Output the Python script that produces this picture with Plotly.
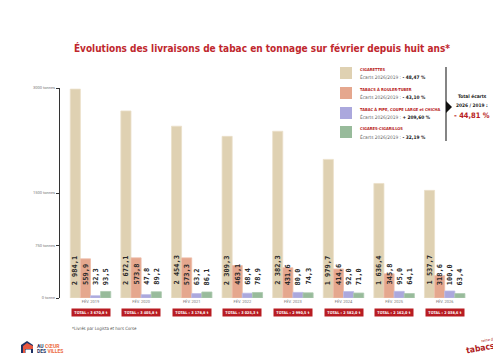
import plotly.graph_objects as go

years = ["FÉV. 2019", "FÉV. 2020", "FÉV. 2021", "FÉV. 2022", "FÉV. 2023", "FÉV. 2024", "FÉV. 2025", "FÉV. 2026"]
cigarettes = [2984.1, 2672.1, 2454.3, 2309.3, 2382.3, 1979.7, 1636.4, 1537.7]
rouler = [559.9, 573.8, 573.3, 463.1, 431.6, 414.6, 345.8, 318.6]
pipe = [32.3, 47.8, 63.2, 68.4, 80.0, 92.0, 95.0, 100.0]
cigares = [93.5, 89.2, 86.1, 78.9, 74.3, 71.0, 64.1, 63.4]
totals = ["3 670,8 t", "3 405,8 t", "3 178,8 t", "3 025,3 t", "2 990,5 t", "2 582,0 t", "2 162,0 t", "2 038,6 t"]
series_names = ["CIGARETTES", "TABACS À ROULER-TUBER", "TABAC À PIPE, COUPE LARGE et CHICHA", "CIGARES-CIGARILLOS"]
ecarts = ["- 48,47 %", "- 43,10 %", "+ 209,60 %", "- 32,19 %"]
total_ecart = "- 44,81 %"
ytick_vals = [0, 750, 1500, 3000]
ytick_text = ["0 tonne", "750 tonnes", "1500 tonnes", "3000 tonnes"]

colors = ["#dfd1b2", "#e5a78e", "#aba8dd", "#98bb9b"]
lines = ["#ebe0c9", "#edbca8", "#bdbae6", "#acc9ae"]
RED = "#b81c22"
COND = "DejaVu Sans Condensed"

W, H = 501, 358
L, R, T, B = 52, 462, 80, 290


def px(x):
    return (x - L) / (R - L)


def py(y):
    return (B - y) / (B - T)


def fmt(v):
    return f"{v:,.1f}".replace(",", " ").replace(".", ",")


fig = go.Figure()
xs = list(range(len(years)))
all_series = [cigarettes, rouler, pipe, cigares]
for name, vals, c, lc in zip(series_names, all_series, colors, lines):
    fig.add_trace(go.Bar(x=xs, y=vals, name=name, marker=dict(color=c, line=dict(color=lc, width=0.8)),
                         showlegend=False, hoverinfo="skip"))

offsets = [-0.3, -0.1, 0.1, 0.3]
annotations = []
for j, vals in enumerate(all_series):
    for i, v in enumerate(vals):
        annotations.append(dict(x=i + offsets[j], y=0, xref="x", yref="y", yshift=11,
                                text=fmt(v), showarrow=False, textangle=-90,
                                xanchor="center", yanchor="bottom",
                                font=dict(family="DejaVu Sans Mono", size=7, color="#2a2a2a", weight="bold")))

for i, t in enumerate(totals):
    annotations.append(dict(x=i, y=py(304), xref="x", yref="paper", text="<b>TOTAL : " + t + "</b>",
                            showarrow=False, bgcolor=RED, width=37, height=6, borderpad=0.5,
                            xanchor="center", yanchor="middle",
                            font=dict(family=COND, size=3.8, color="white")))

shapes = []
tops = [59, 79, 99, 118]
for k in range(4):
    shapes.append(dict(type="rect", xref="paper", yref="paper", x0=px(332), x1=px(344), y0=py(tops[k]), y1=py(tops[k] + 12),
                       fillcolor=colors[k], line=dict(width=0)))
    annotations.append(dict(x=px(350), y=py(tops[k] + 2), xref="paper", yref="paper", text="<b>" + series_names[k] + "</b>",
                            showarrow=False, xanchor="left", yanchor="middle",
                            font=dict(family=COND, size=4, color=RED)))
    annotations.append(dict(x=px(350), y=py(tops[k] + 10.5), xref="paper", yref="paper",
                            text="Écarts 2026/2019 : <b><span style='color:#111'>" + ecarts[k] + "</span></b>",
                            showarrow=False, xanchor="left", yanchor="middle",
                            font=dict(family=COND, size=4.8, color="#666")))

shapes.append(dict(type="line", xref="paper", yref="paper", x0=px(438), x1=px(438), y0=py(59), y1=py(133),
                   line=dict(color="#333", width=1.2)))
shapes.append(dict(type="path", xref="paper", yref="paper",
                   path=f"M {px(438)} {py(93)} L {px(444)} {py(99)} L {px(438)} {py(105)} Z",
                   fillcolor="#111", line=dict(width=0)))
annotations.append(dict(x=px(464), y=py(89), xref="paper", yref="paper", text="<b>Total écarts</b>", showarrow=False,
                        xanchor="center", yanchor="middle",
                        font=dict(family=COND, size=4.8, color="#222")))
annotations.append(dict(x=px(464), y=py(97), xref="paper", yref="paper", text="<b>2026 / 2019 :</b>", showarrow=False,
                        xanchor="center", yanchor="middle",
                        font=dict(family=COND, size=4.8, color="#222")))
annotations.append(dict(x=px(464), y=py(107), xref="paper", yref="paper", text="<b>" + total_ecart + "</b>", showarrow=False,
                        xanchor="center", yanchor="middle",
                        font=dict(family=COND, size=7.5, color=RED)))

annotations.append(dict(x=px(62), y=py(320), xref="paper", yref="paper", text="*Livrés par Logista et hors Corse",
                        showarrow=False, xanchor="left", yanchor="middle",
                        font=dict(family=COND, size=4.4, color="#555")))

shapes.append(dict(type="path", xref="paper", yref="paper",
                   path=f"M {px(13)} {py(345)} L {px(13)} {py(337)} L {px(19)} {py(333)} L {px(25)} {py(337)} L {px(25)} {py(345)} Z",
                   fillcolor="#1f3264", line=dict(width=0)))
shapes.append(dict(type="path", xref="paper", yref="paper",
                   path=f"M {px(15)} {py(338)} L {px(19)} {py(335)} L {px(25)} {py(338)} L {px(25)} {py(341)} L {px(17)} {py(341)} L {px(17)} {py(345)} L {px(15)} {py(345)} Z",
                   fillcolor="#e9573f", line=dict(width=0)))
shapes.append(dict(type="rect", xref="paper", yref="paper", x0=px(17.5), x1=px(23), y0=py(345), y1=py(341.5),
                   fillcolor="white", line=dict(width=0)))
annotations.append(dict(x=px(27), y=py(337.5), xref="paper", yref="paper",
                        text="<b><span style='color:#1f3264'>AU</span> <span style='color:#ec6a43'>CŒUR</span></b>",
                        showarrow=False, xanchor="left", yanchor="middle",
                        font=dict(family="Roboto", size=5, color="#1f3264")))
annotations.append(dict(x=px(27), y=py(343), xref="paper", yref="paper",
                        text="<b><span style='color:#1f3264'>DES</span> <span style='color:#ec6a43'>VILLES</span></b>",
                        showarrow=False, xanchor="left", yanchor="middle",
                        font=dict(family="Roboto", size=5, color="#1f3264")))

annotations.append(dict(x=px(472), y=py(340), xref="paper", yref="paper", text="<b>tabacs</b>", showarrow=False,
                        textangle=-10, xanchor="center", yanchor="middle",
                        font=dict(family=COND, size=8.5, color="#b01c22")))
annotations.append(dict(x=px(481), y=py(331), xref="paper", yref="paper", text="reine des", showarrow=False,
                        textangle=-10, xanchor="center", yanchor="middle",
                        font=dict(family=COND, size=3.8, color="#b01c22")))

fig.update_layout(
    width=W, height=H, autosize=False,
    margin=dict(l=L, r=W - R, t=T, b=H - B),
    paper_bgcolor="white", plot_bgcolor="white",
    barmode="group", bargap=0.2, bargroupgap=0,
    title=dict(text="<b>Évolutions des livraisons de tabac en tonnage sur février depuis huit ans*</b>",
               x=254 / W, xanchor="center", xref="container", y=1 - 40 / H, yanchor="middle",
               font=dict(family=COND, size=10, color="#c0272d")),
    xaxis=dict(range=[-0.603, 7.5], tickvals=xs, ticktext=years, showline=False, showgrid=False, zeroline=False,
               ticks="", tickfont=dict(family="Roboto", size=4, color="#777"), fixedrange=True),
    yaxis=dict(range=[0, 3000], tickvals=ytick_vals, ticktext=ytick_text, showline=True, linecolor="#333",
               linewidth=1, ticks="outside", ticklen=3, tickcolor="#333", showgrid=False, zeroline=False,
               tickfont=dict(family="Roboto", size=4, color="#777"), fixedrange=True),
    annotations=annotations, shapes=shapes,
)

fig.write_html("out.html")
